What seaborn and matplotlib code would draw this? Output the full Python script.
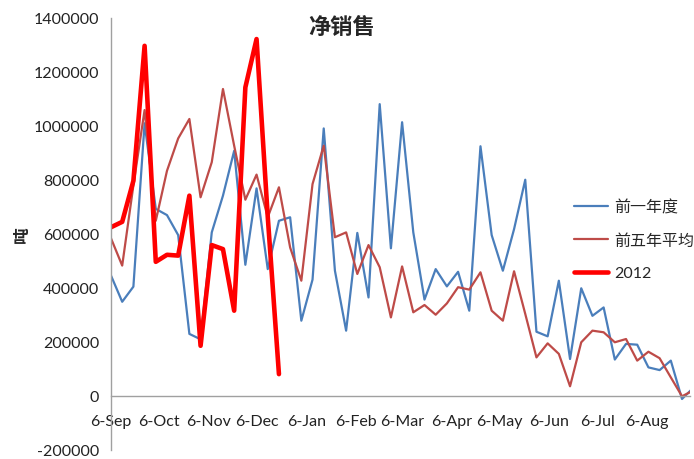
import pandas as pd
import matplotlib.pyplot as plt
import matplotlib.dates as mdates
import matplotlib.ticker as mticker
import seaborn as sns

# weekly net sales (tonnes), weeks starting 6-Sep
week_start = "2011-09-06"

prev_year = [446000, 349000, 405000, 1010000, 693000, 670000, 596000, 230000, 210000,
             606000, 742000, 908000, 486000, 769000, 470000, 649000, 662000, 279000,
             431000, 991000, 464000, 242000, 604000, 365000, 1081000, 547000, 1014000,
             606000, 357000, 470000, 406000, 460000, 316000, 925000, 596000, 464000,
             618000, 801000, 238000, 221000, 427000, 137000, 399000, 297000, 328000,
             135000, 193000, 190000, 106000, 96000, 131000, -11000, 30000]

five_year_avg = [584000, 483000, 780000, 1059000, 649000, 834000, 954000, 1026000, 736000,
                 866000, 1137000, 927000, 727000, 820000, 662000, 773000, 550000, 427000,
                 785000, 927000, 588000, 606000, 452000, 559000, 477000, 291000, 480000,
                 310000, 337000, 301000, 343000, 403000, 394000, 458000, 316000, 279000,
                 462000, 304000, 143000, 195000, 156000, 36000, 199000, 242000, 236000,
                 199000, 211000, 131000, 164000, 140000, 69000, -1000, 20000]

sales_2012 = [625000, 645000, 797000, 1297000, 497000, 523000, 520000, 742000, 186000,
              559000, 544000, 316000, 1143000, 1322000, 664000, 81000]

series_names = ["前一年度", "前五年平均", "2012"]
y_ticks = list(range(-200000, 1400001, 200000))

dates = pd.date_range(week_start, periods=len(prev_year), freq="7D")

sns.set_style("white")
plt.rcParams["font.family"] = ["Lato", "Noto Sans CJK SC", "DejaVu Sans"]
plt.rcParams["axes.unicode_minus"] = False

fig = plt.figure(figsize=(6.94, 4.60), dpi=100)
ax = fig.add_axes([111 / 694, 9 / 460, 579 / 694, 432 / 460])

sns.lineplot(x=dates, y=prev_year, ax=ax, color="#4a7ebb", linewidth=1.6, label=series_names[0])
sns.lineplot(x=dates, y=five_year_avg, ax=ax, color="#be4b48", linewidth=1.6, label=series_names[1])
sns.lineplot(x=dates[:len(sales_2012)], y=sales_2012, ax=ax, color="#ff0000", linewidth=3.3,
             label=series_names[2])

# axes like the Excel chart: x axis crosses at zero
ax.set_ylim(-200000, 1400000)
ax.set_xlim(pd.Timestamp("2011-09-06"), pd.Timestamp("2012-09-02"))
ax.set_yticks(y_ticks)
ax.yaxis.set_major_formatter(mticker.StrMethodFormatter("{x:.0f}"))
ax.xaxis.set_major_locator(mdates.DayLocator(bymonthday=6))
ax.xaxis.set_major_formatter(mdates.DateFormatter("%-d-%b"))

ax.spines["bottom"].set_position(("data", 0))
for side in ["top", "right"]:
    ax.spines[side].set_visible(False)
for side in ["left", "bottom"]:
    ax.spines[side].set_color("#a0a0a0")
    ax.spines[side].set_linewidth(1.0)
ax.tick_params(axis="both", direction="out", length=5, width=1, color="#a0a0a0",
               labelsize=11.5, labelcolor="#222222")
ax.tick_params(axis="x", pad=8)
ax.set_xlabel("")
ax.set_ylabel("")

ax.get_legend().remove()
handles, labels = ax.get_legend_handles_labels()
fig.legend(handles, labels, loc="upper left", bbox_to_anchor=(560 / 694, 1 - 186 / 460),
           frameon=False, fontsize=11.5, handlelength=2.1, labelspacing=1.15,
           handletextpad=0.4)

fig.text(342 / 694, 1 - 27 / 460, "净销售", ha="center", va="center", fontsize=16,
         fontweight="bold")
fig.text(22 / 694, 1 - 235 / 460, "吨", ha="center", va="center", rotation=90,
         fontsize=12, fontweight="bold")

fig.savefig("out.png", dpi=100)
